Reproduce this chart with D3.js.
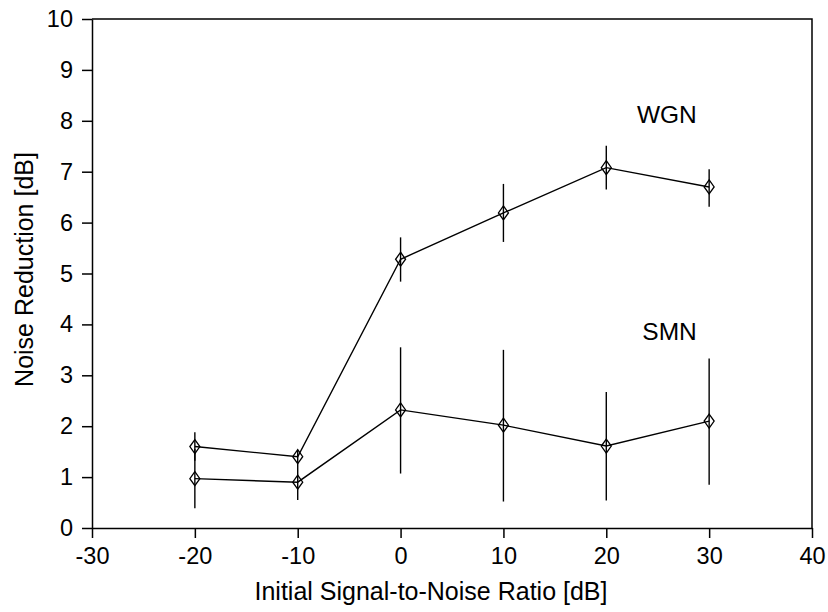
<!DOCTYPE html>
<html>
<head>
<meta charset="utf-8">
<script src="https://cdnjs.cloudflare.com/ajax/libs/d3/7.8.5/d3.min.js"></script>
<style>
	html, body { margin: 0; padding: 0; background: #fff; }
	svg { display: block; font-family: 'Liberation Sans', Arial, Helvetica, sans-serif; }
</style>
</head>
<body>
<div id="js_chart"></div>
<script>
'use strict';

// Initial SNR [dB]
const snr = [-20, -10, 0, 10, 20, 30];
// white gaussian noise
const wgnMean = [1.60, 1.40, 5.28, 6.19, 7.08, 6.70];
const wgnLow = [1.32, 1.26, 4.84, 5.62, 6.65, 6.31];
const wgnHigh = [1.88, 1.53, 5.71, 6.76, 7.51, 7.05];
// SMN
const smnMean = [0.97, 0.90, 2.32, 2.02, 1.61, 2.10];
const smnLow = [0.39, 0.55, 1.07, 0.52, 0.54, 0.85];
const smnHigh = [1.55, 1.26, 3.55, 3.50, 2.67, 3.33];

const xTicks = [-30, -20, -10, 0, 10, 20, 30, 40];
const yTicks = [0, 1, 2, 3, 4, 5, 6, 7, 8, 9, 10];
const seriesNames = ['WGN', 'SMN'];

const width = 828;
const height = 612;
const margin = { top: 19, right: 16, bottom: 84, left: 92 };
const innerW = width - margin.left - margin.right;
const innerH = height - margin.top - margin.bottom;

const svg = d3.select('#js_chart').append('svg')
	.attr('width', width)
	.attr('height', height);

svg.append('rect')
	.attr('width', width)
	.attr('height', height)
	.style('fill', '#fff');

const g = svg.append('g')
	.attr('transform', 'translate(' + margin.left + ',' + margin.top + ')');

const x = d3.scaleLinear().domain([-30, 40]).range([0, innerW]);
const y = d3.scaleLinear().domain([0, 10]).range([innerH, 0]);

// frame (top and right, no ticks)
g.append('path')
	.attr('d', 'M0,0H' + innerW + 'V' + innerH)
	.style('fill', 'none')
	.style('stroke', '#000')
	.style('stroke-width', 1.5);

// plain hyphen for negatives, like the original
const plain = function (d) { return String(d); };

const xAxis = g.append('g')
	.attr('transform', 'translate(0,' + innerH + ')')
	.call(d3.axisBottom(x).tickValues(xTicks).tickFormat(plain)
		.tickSize(10).tickSizeOuter(0).tickPadding(9));

const yAxis = g.append('g')
	.call(d3.axisLeft(y).tickValues(yTicks).tickFormat(plain)
		.tickSize(10).tickSizeOuter(0).tickPadding(9));

[xAxis, yAxis].forEach(function (ax) {
	ax.selectAll('path, line').style('stroke', '#000').style('stroke-width', 1.5);
	ax.selectAll('text')
		.style('font-family', "'Liberation Sans', Arial, sans-serif")
		.style('font-size', '23.5px')
		.style('fill', '#000');
});

// axis titles
svg.append('text')
	.attr('x', 431)
	.attr('y', 600)
	.attr('text-anchor', 'middle')
	.style('font-size', '25px')
	.text('Initial Signal-to-Noise Ratio [dB]');

svg.append('text')
	.attr('transform', 'translate(33,' + (margin.top + innerH / 2 - 4) + ') rotate(-90)')
	.attr('text-anchor', 'middle')
	.style('font-size', '25px')
	.text('Noise Reduction [dB]');

function drawSeries(mean, low, high) {
	const pts = snr.map(function (d, i) {
		return { x: d, m: mean[i], lo: low[i], hi: high[i] };
	});
	const line = d3.line()
		.x(function (d) { return x(d.x); })
		.y(function (d) { return y(d.m); });

	g.append('path')
		.datum(pts)
		.attr('d', line)
		.style('fill', 'none')
		.style('stroke', '#000')
		.style('stroke-width', 1.4);

	g.selectAll(null)
		.data(pts).enter().append('line')
		.attr('x1', function (d) { return x(d.x); })
		.attr('x2', function (d) { return x(d.x); })
		.attr('y1', function (d) { return y(d.lo); })
		.attr('y2', function (d) { return y(d.hi); })
		.style('stroke', '#000')
		.style('stroke-width', 1.4);

	g.selectAll(null)
		.data(pts).enter().append('path')
		.attr('d', function (d) {
			const cx = x(d.x), cy = y(d.m);
			return 'M' + cx + ',' + (cy - 7) + 'L' + (cx + 5) + ',' + cy +
				'L' + cx + ',' + (cy + 7) + 'L' + (cx - 5) + ',' + cy + 'Z';
		})
		.style('fill', 'none')
		.style('stroke', '#000')
		.style('stroke-width', 1.3);
}

drawSeries(wgnMean, wgnLow, wgnHigh);
drawSeries(smnMean, smnLow, smnHigh);

// series annotations
const labelPos = [7.96, 3.69];
g.selectAll('.seriesLabel')
	.data(seriesNames).enter().append('text')
	.classed('seriesLabel', true)
	.attr('x', x(28.8))
	.attr('y', function (d, i) { return y(labelPos[i]); })
	.attr('text-anchor', 'end')
	.style('font-size', '24.5px')
	.text(function (d) { return d; });
</script>
</body>
</html>
